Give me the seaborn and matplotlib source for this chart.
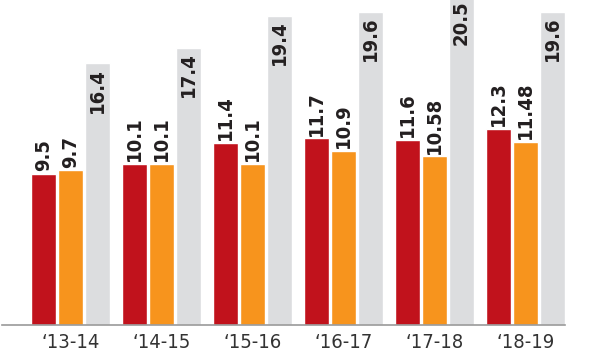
import matplotlib
matplotlib.use("Agg")
import matplotlib.pyplot as plt
import seaborn as sns
import pandas as pd
from matplotlib import font_manager as fm

# ---- data ----
years = ["‘13-14", "‘14-15", "‘15-16", "‘16-17", "‘17-18", "‘18-19"]
series_names = ["Series 1", "Series 2", "Series 3"]
red_vals = [9.5, 10.1, 11.4, 11.7, 11.6, 12.3]
orange_vals = [9.7, 10.1, 10.1, 10.9, 10.58, 11.48]
gray_vals = [16.4, 17.4, 19.4, 19.6, 20.5, 19.6]
red_labels = ["9.5", "10.1", "11.4", "11.7", "11.6", "12.3"]
orange_labels = ["9.7", "10.1", "10.1", "10.9", "10.58", "11.48"]
gray_labels = ["16.4", "17.4", "19.4", "19.6", "20.5", "19.6"]

colors = ["#C1121C", "#F7941D", "#DCDDDF"]

sns.set_theme(style="white")

names = {f.name for f in fm.fontManager.ttflist}
if "Liberation Sans Narrow" in names:
    fam = ["Liberation Sans Narrow", "DejaVu Sans"]
    stretch = "normal"
    lab_size, tick_size = 17, 16.5
else:
    fam = ["DejaVu Sans"]
    stretch = "condensed"
    lab_size, tick_size = 14.5, 14.5
plt.rcParams["font.family"] = fam

df = pd.DataFrame({
    "year": years * 3,
    "series": [series_names[0]] * 6 + [series_names[1]] * 6 + [series_names[2]] * 6,
    "value": red_vals + orange_vals + gray_vals,
})

fig = plt.figure(figsize=(5.91, 3.61), dpi=100)
ax = fig.add_axes([2 / 591, 36 / 361, 563 / 591, 325 / 361])

sns.barplot(data=df, x="year", y="value", hue="series", order=years,
            hue_order=series_names, palette=colors, width=0.89, gap=0.075,
            saturation=1, legend=False, ax=ax)

ytop = 20.38
ax.set_ylim(0, ytop)
ax.set_xlim(-0.753, 5.434)

txt_color = "#231F20"
all_labels = [red_labels, orange_labels, gray_labels]
for i, cont in enumerate(ax.containers):
    for patch, lab in zip(cont.patches, all_labels[i]):
        xc = patch.get_x() + patch.get_width() / 2
        h = patch.get_height()
        if i < 2:
            ax.annotate(lab, (xc, h), xytext=(0, 2), textcoords="offset points",
                        ha="center", va="bottom", rotation=90, fontsize=lab_size,
                        fontweight="bold", fontstretch=stretch, color=txt_color,
                        annotation_clip=False)
        else:
            ax.annotate(lab, (xc, min(h, ytop)), xytext=(0, -3 if h < ytop else 0),
                        textcoords="offset points", ha="center", va="top",
                        rotation=90, fontsize=lab_size, fontweight="bold",
                        fontstretch=stretch, color=txt_color,
                        annotation_clip=False)

for s in ["top", "right", "left"]:
    ax.spines[s].set_visible(False)
ax.spines["bottom"].set_color("#9A9A9A")
ax.spines["bottom"].set_linewidth(1.2)
ax.set_yticks([])
ax.set_xlabel("")
ax.set_ylabel("")
ax.tick_params(axis="x", length=0, pad=6, labelsize=tick_size, colors="#333333")
for t in ax.get_xticklabels():
    t.set_fontstretch(stretch)

fig.savefig("out.png", dpi=100)
